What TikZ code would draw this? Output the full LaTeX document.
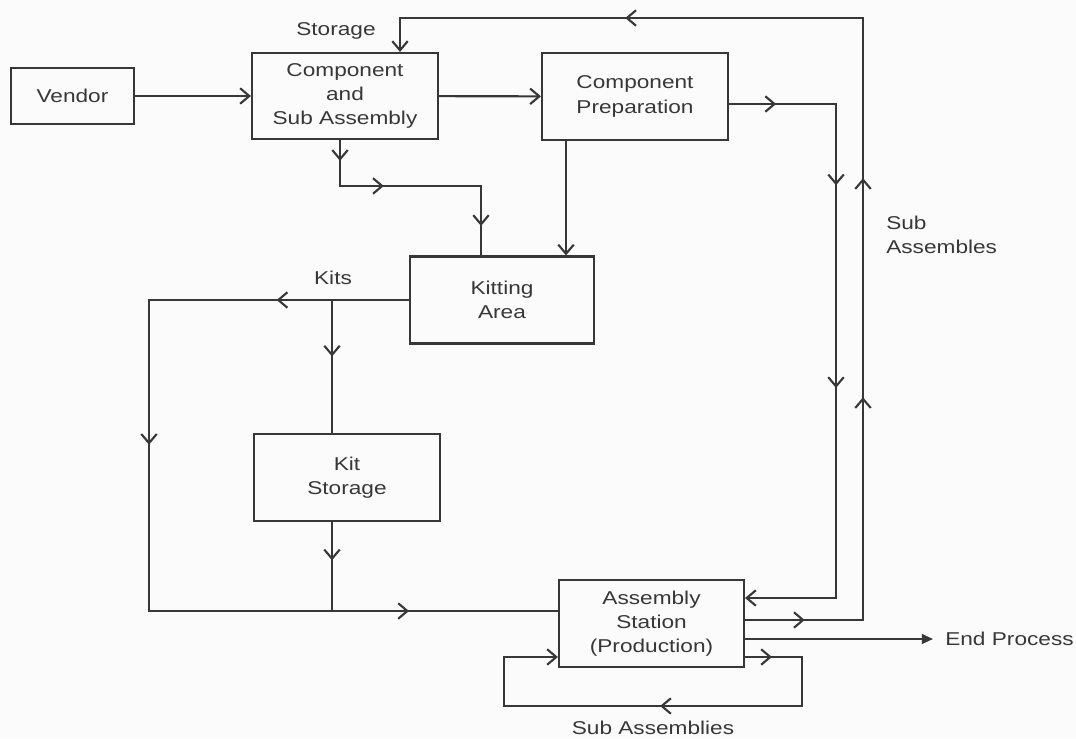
\documentclass[tikz,border=0pt]{standalone}
\usepackage{fontspec}
\setmainfont{Liberation Sans}[FakeStretch=1.22]
\usetikzlibrary{arrows.meta,decorations.markings}

\definecolor{ink}{RGB}{55,55,55}
\definecolor{paper}{RGB}{251,251,251}

\tikzset{
	station/.style={draw=ink, line width=1.5pt, align=center, text=ink, inner sep=2pt},
	flow/.style={draw=ink, line width=1.5pt},
	midtip/.style={postaction={decorate, decoration={markings, mark=at position #1 with {\arrow{>}}}}},
	tag/.style={text=ink, inner sep=0pt, align=left},
}

\begin{document}
\begin{tikzpicture}[x=0.025cm, y=-0.025cm, >={Straight Barb[length=6.5pt,width=11pt]},
		font=\fontsize{13.2pt}{17.2pt}\selectfont]
		\fill[paper] (0,0) rectangle (1076,738);
		\useasboundingbox (0,0) rectangle (1076,738);

		% stations
		\node[station, minimum width=3.075cm, minimum height=1.4cm] (vendor) at (72.5,96) {Vendor};
		\node[station, minimum width=4.65cm, minimum height=2.15cm] (csa) at (345,96) {Component\\and\\Sub Assembly};
		\node[station, minimum width=4.65cm, minimum height=2.175cm] (cp) at (635,96.5) {Component\\Preparation};
		\node[station, minimum width=4.6cm, minimum height=2.175cm] (kit) at (502,300) {Kitting\\Area};
		\node[station, minimum width=4.65cm, minimum height=2.175cm] (kst) at (347,477.5) {Kit\\Storage};
		\node[station, minimum width=4.625cm, minimum height=2.175cm] (asm) at (651.5,623.5) {Assembly\\Station\\(Production)};

		% labels
		\node[tag] (storagelbl) at (336,31) {Storage};
		\node[tag] (kitslbl) at (333,278) {Kits};
		\node[tag, anchor=west] (subslbl) at (886,235) {Sub\\Assembles};
		\node[tag] (looplbl) at (653,728) {Sub Assemblies};
		\node[tag, anchor=west] (endp) at (945,639) {End Process};

		% bends
		\coordinate (topR) at (863,18);
		\coordinate (topL) at (400,18);
		\coordinate (outR) at (863,620);
		\coordinate (prepR) at (836,104);
		\coordinate (inR) at (836,598);
		\coordinate (prepB) at (566,200);
		\coordinate (csaD) at (340,186);
		\coordinate (csaE) at (481,186);
		\coordinate (kitsL) at (149,300);
		\coordinate (kitsJ) at (332,300);
		\coordinate (botL) at (149,611);
		\coordinate (botJ) at (332,611);
		\coordinate (loopR) at (802,657);
		\coordinate (loopRB) at (802,706);
		\coordinate (loopLB) at (504,706);
		\coordinate (loopL) at (504,657);
		\coordinate (endY) at (933,639);

		\draw[flow, ->] (vendor) -- (csa);
		\draw[flow, ->] (csa) -- (cp);
		\draw[flow, ->, midtip=0.049, midtip=0.280, midtip=0.460, midtip=0.787]
			(asm.east |- outR) -- (outR) -- (topR) -- (topL) -- (topL |- csa.north);
		\draw[flow, ->, midtip=0.068, midtip=0.272, midtip=0.565]
			(cp.east |- prepR) -- (prepR) -- (inR) -- (inR -| asm.east);
		\draw[flow, midtip=0.081, midtip=0.35, midtip=0.885]
			(csaD |- csa.south) -- (csaD) -- (csaE) -- (csaE |- kit.north);
		\draw[flow, ->] (prepB |- cp.south) -- (prepB |- kit.north);
		\draw[flow, midtip=0.135, midtip=0.413, midtip=0.848]
			(kit.west) -- (kitsL) -- (botL) -- (botL -| asm.west);
		\draw[flow, midtip=0.425] (kitsJ) -- (kitsJ |- kst.north);
		\draw[flow, midtip=0.43] (kitsJ |- kst.south) -- (botJ);
		\draw[flow, -{Triangle[length=8pt,width=7pt]}] (asm.east |- endY) -- (endY);
		\draw[flow, ->, midtip=0.053, midtip=0.489]
			(asm.east |- loopR) -- (loopR) -- (loopRB) -- (loopLB) -- (loopL) -- (loopL -| asm.west);
\end{tikzpicture}
\end{document}
